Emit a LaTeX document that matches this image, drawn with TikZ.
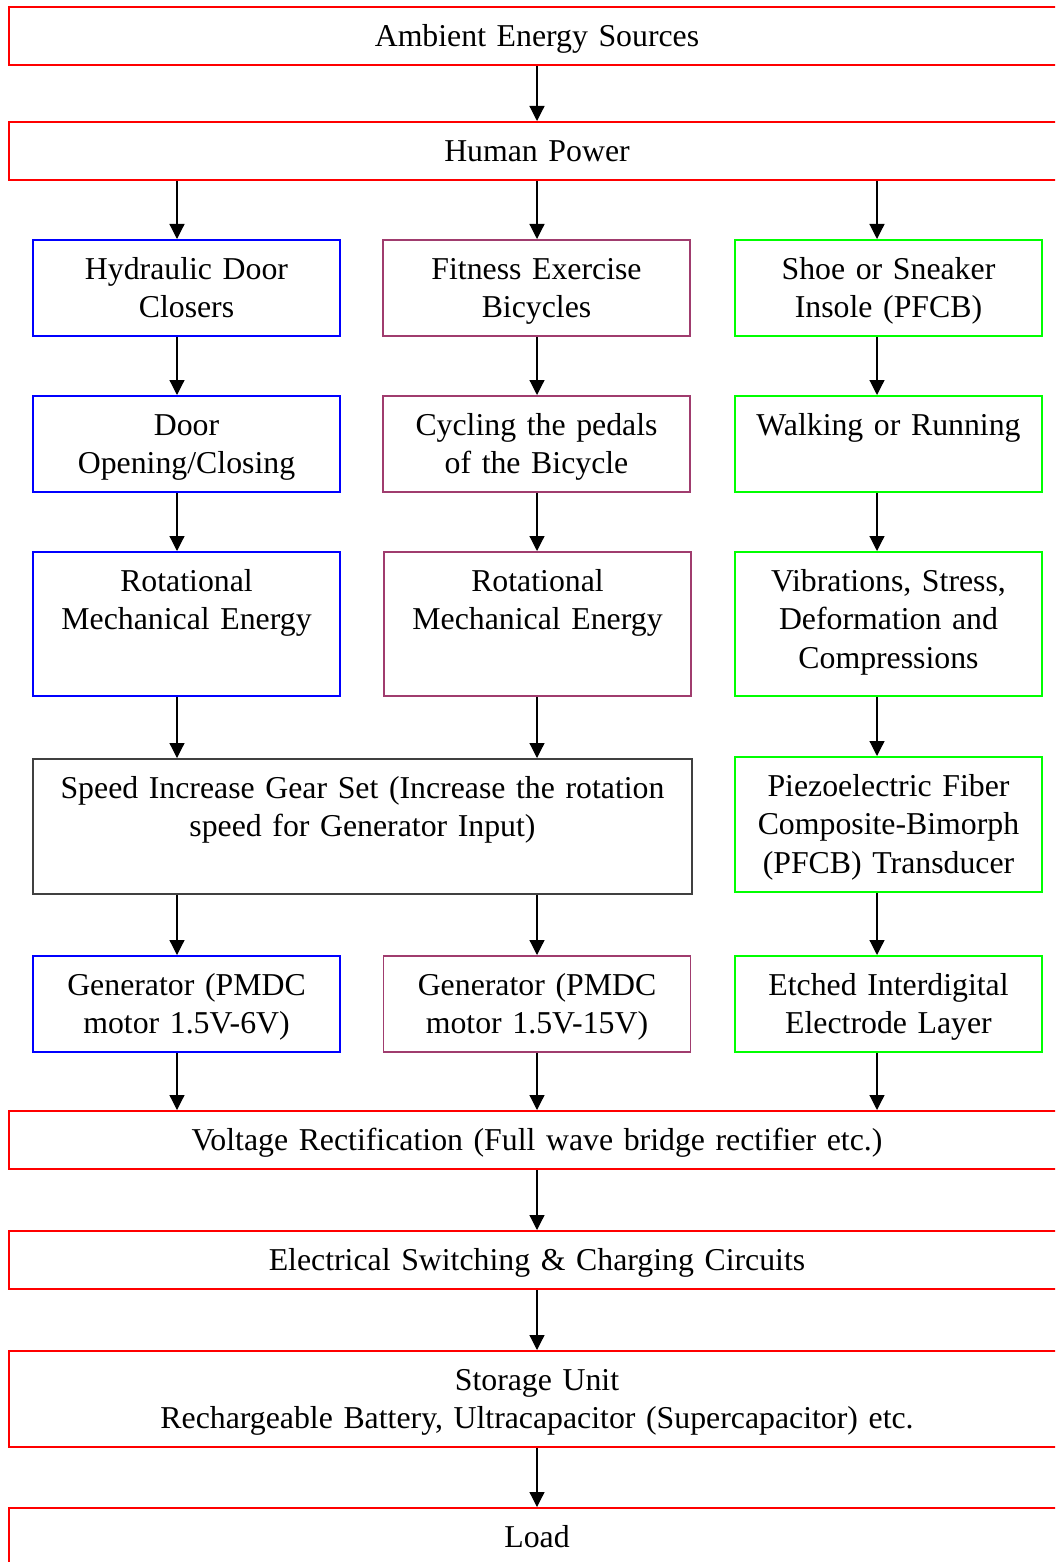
\documentclass[tikz,border=0pt]{standalone}
\usepackage{fontspec}
\setmainfont{Liberation Serif}[WordSpace=0.85]
\usepackage{xcolor}
\usetikzlibrary{arrows.meta}
\definecolor{plum}{RGB}{160,60,110}
\definecolor{gearg}{RGB}{64,64,64}
\begin{document}
\begin{tikzpicture}[x=0.5pt,y=-0.5pt]
        \tikzstyle{blk}=[draw, anchor=north, align=center, inner xsep=0pt, inner ysep=0pt, text height=19.7pt, line width=1pt, font=\fontsize{15.9}{19.2}\selectfont]
        \tikzstyle{wide}=[blk, draw=red, text width=528pt]
        \tikzstyle{col}=[blk, text width=153.5pt]
        \tikzstyle{arr}=[black, line width=0.6pt, -{Triangle[width=7.5pt,length=7.5pt]}]
        \path[use as bounding box, clip] (0,0) rectangle (1055,1562);
        \coordinate (xa) at (177,0);
        \coordinate (xb) at (537,0);
        \coordinate (xc) at (877,0);
        \node [wide, text depth=9.3pt] (amb) at (537,6) {Ambient Energy Sources};
        \node [wide, text depth=9.3pt] (hp) at (537,121) {Human Power};
        \node [col, draw=blue, text depth=28.3pt] (hdc) at (186.5,239) {Hydraulic Door\\Closers};
        \node [col, draw=plum, line width=0.9pt, text depth=28.3pt] (feb) at (536.5,239) {Fitness Exercise\\Bicycles};
        \node [col, draw=green, text depth=28.3pt] (ssi) at (888.5,239) {Shoe or Sneaker\\Insole (PFCB)};
        \node [col, draw=blue, text depth=28.3pt] (doc) at (186.5,395) {Door\\Opening/Closing};
        \node [col, draw=plum, line width=0.9pt, text depth=28.3pt] (cyc) at (536.5,395) {Cycling the pedals\\of the Bicycle};
        \node [col, draw=green, text depth=28.3pt] (wor) at (888.5,395) {Walking or Running};
        \node [col, draw=blue, text depth=52.3pt] (rmea) at (186.5,551) {Rotational\\Mechanical Energy};
        \node [col, draw=plum, line width=0.9pt, text depth=52.3pt] (rmeb) at (537.5,551) {Rotational\\Mechanical Energy};
        \node [col, draw=green, text depth=52.3pt] (vsd) at (888.5,551) {Vibrations, Stress,\\Deformation and\\Compressions};
        \node [blk, draw=gearg, line width=0.9pt, text width=329.5pt, text depth=47.8pt] (gear) at (362.5,758) {Speed Increase Gear Set (Increase the rotation\\speed for Generator Input)};
        \node [col, draw=green, text depth=47.8pt] (pfcb) at (888.5,756) {Piezoelectric Fiber\\Composite-Bimorph\\(PFCB) Transducer};
        \node [col, draw=blue, text depth=28.3pt] (gena) at (186.5,955) {Generator (PMDC\\motor 1.5V-6V)};
        \node [col, draw=plum, line width=0.9pt, text depth=28.3pt] (genb) at (537,955) {Generator (PMDC\\motor 1.5V-15V)};
        \node [col, draw=green, text depth=28.3pt] (eidl) at (888.5,955) {Etched Interdigital\\Electrode Layer};
        \node [wide, text depth=9.3pt] (vr) at (537,1110) {Voltage Rectification (Full wave bridge rectifier etc.)};
        \node [wide, text depth=9.3pt] (esc) at (537,1230) {Electrical Switching \& Charging Circuits};
        \node [wide, text depth=28.3pt] (su) at (537,1350) {Storage Unit\\Rechargeable Battery, Ultracapacitor (Supercapacitor) etc.};
        \node [wide, text depth=9.3pt] (load) at (537,1507) {Load};
        \draw [arr] (amb.south -| xb) -- (hp.north -| xb);
        \draw [arr] (hp.south -| xa) -- (hdc.north -| xa);
        \draw [arr] (hp.south -| xb) -- (feb.north -| xb);
        \draw [arr] (hp.south -| xc) -- (ssi.north -| xc);
        \draw [arr] (hdc.south -| xa) -- (doc.north -| xa);
        \draw [arr] (feb.south -| xb) -- (cyc.north -| xb);
        \draw [arr] (ssi.south -| xc) -- (wor.north -| xc);
        \draw [arr] (doc.south -| xa) -- (rmea.north -| xa);
        \draw [arr] (cyc.south -| xb) -- (rmeb.north -| xb);
        \draw [arr] (wor.south -| xc) -- (vsd.north -| xc);
        \draw [arr] (rmea.south -| xa) -- (gear.north -| xa);
        \draw [arr] (rmeb.south -| xb) -- (gear.north -| xb);
        \draw [arr] (vsd.south -| xc) -- (pfcb.north -| xc);
        \draw [arr] (gear.south -| xa) -- (gena.north -| xa);
        \draw [arr] (gear.south -| xb) -- (genb.north -| xb);
        \draw [arr] (pfcb.south -| xc) -- (eidl.north -| xc);
        \draw [arr] (gena.south -| xa) -- (vr.north -| xa);
        \draw [arr] (genb.south -| xb) -- (vr.north -| xb);
        \draw [arr] (eidl.south -| xc) -- (vr.north -| xc);
        \draw [arr] (vr.south -| xb) -- (esc.north -| xb);
        \draw [arr] (esc.south -| xb) -- (su.north -| xb);
        \draw [arr] (su.south -| xb) -- (load.north -| xb);
\end{tikzpicture}
\end{document}
